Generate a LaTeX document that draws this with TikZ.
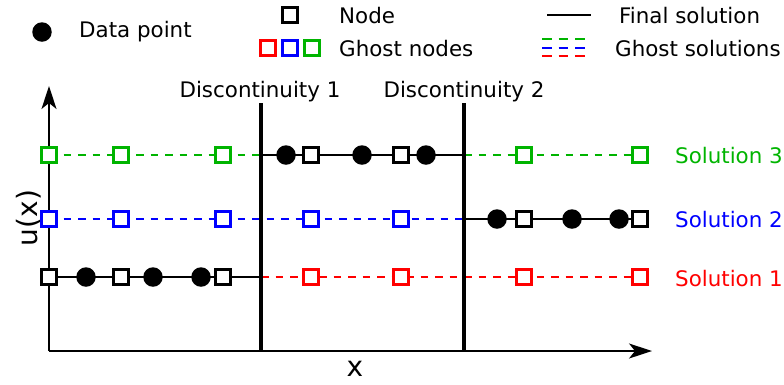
\documentclass[tikz,border=0pt]{standalone}
\usepackage{fontspec}
\setmainfont{DejaVu Sans}
\usetikzlibrary{arrows.meta}
\definecolor{solgreen}{RGB}{0,180,0}

\begin{document}
\begin{tikzpicture}[x=1pt,y=-1pt,font=\fontsize{21.4}{26}\selectfont,
  sqnode/.style={draw=#1,fill=white,line width=2.4pt,minimum size=15pt,inner sep=0pt},
  sqnode/.default=black,
  datapt/.style={circle,fill=black,minimum size=19.5pt,inner sep=0pt},
  lbl/.style={inner sep=0pt},
  axlbl/.style={inner sep=0pt,font=\fontsize{28}{32}\selectfont},
  ghost/.style={line width=2.5pt,dash pattern=on 7.5pt off 7pt},
  final/.style={line width=2.5pt},
  disc/.style={line width=4.8pt},
  axis/.style={line width=1.5pt,-{Stealth[length=23pt,width=15pt,inset=6pt]}}]
\useasboundingbox (0,0) rectangle (784,384);

% legend
\node[datapt] (legdata) at (42,32) {};
\node[lbl,anchor=base west] (legdatatxt) at (79,37) {Data point};
\node[sqnode] (legnode) at (290,15) {};
\node[lbl,anchor=base west] (legnodetxt) at (339,23) {Node};
\node[sqnode=red] (legr) at (268,48) {};
\node[sqnode=blue] (legb) at (290,48) {};
\node[sqnode=solgreen] (legg) at (312,48) {};
\node[lbl,anchor=base west] (legghosttxt) at (339,56) {Ghost nodes};
\coordinate (legfa) at (547,15);
\coordinate (legfb) at (591,15);
\draw[final,line width=2.8pt] (legfa) -- (legfb);
\node[lbl,anchor=base west] (legfinaltxt) at (619,23) {Final solution};
\foreach \c/\y in {solgreen/39,blue/48,red/56}
  \draw[\c,line width=2.8pt,dash pattern=on 9.5pt off 7pt] (542,\y) -- (585,\y);
\node[lbl,anchor=base west] (legsoltxt) at (615,56) {Ghost solutions};

% axes
\coordinate (O) at (49,351);
\coordinate (ytop) at (49,86);
\coordinate (xend) at (652,351);
\draw[axis] (O) -- (ytop);
\draw[axis] (O) -- (xend);
\node[axlbl,rotate=90,anchor=base] (ulabel) at (37,218) {u(x)};
\node[axlbl,anchor=base] (xlabel) at (355,376) {x};

% discontinuities
\coordinate (d1top) at (261,103);
\coordinate (d1bot) at (261,351);
\coordinate (d2top) at (464,103);
\coordinate (d2bot) at (464,351);
\node[lbl,anchor=base] (d1txt) at (260,97) {Discontinuity 1};
\node[lbl,anchor=base] (d2txt) at (464,97) {Discontinuity 2};

% node positions
\foreach \x [count=\i] in {49,121,223,311,401,524,640} {
  \coordinate (g\i) at (\x,155);
  \coordinate (b\i) at (\x,219);
  \coordinate (r\i) at (\x,277);
}

% solutions
\draw[ghost,solgreen] (g1) -- (g2) -- (g3) -- (g3 -| d1top);
\draw[final] (g3 -| d1top) -- (g4) -- (g5) -- (g5 -| d2top);
\draw[ghost,solgreen] (g5 -| d2top) -- (g6) -- (g7);
\draw[ghost,blue] (b1) -- (b2) -- (b3) -- (b4) -- (b5) -- (b5 -| d2top);
\draw[final] (b5 -| d2top) -- (b6) -- (b7);
\draw[final] (r1) -- (r2) -- (r3) -- (r3 -| d1top);
\draw[ghost,red] (r3 -| d1top) -- (r4) -- (r5) -- (r6) -- (r7);

\draw[disc] (d1top) -- (d1bot);
\draw[disc] (d2top) -- (d2bot);

% nodes
\foreach \i in {1,2,3,6,7} \node[sqnode=solgreen] (gn\i) at (g\i) {};
\foreach \i in {4,5} \node[sqnode] (gn\i) at (g\i) {};
\foreach \i in {1,...,5} \node[sqnode=blue] (bn\i) at (b\i) {};
\foreach \i in {6,7} \node[sqnode] (bn\i) at (b\i) {};
\foreach \i in {1,2,3} \node[sqnode] (rn\i) at (r\i) {};
\foreach \i in {4,...,7} \node[sqnode=red] (rn\i) at (r\i) {};

% data points
\foreach \x [count=\i] in {286,362,426} \node[datapt] (gd\i) at (\x,155) {};
\foreach \x [count=\i] in {497,572,619} \node[datapt] (bd\i) at (\x,219) {};
\foreach \x [count=\i] in {86,153,201} \node[datapt] (rd\i) at (\x,277) {};

\node[lbl,anchor=base west,text=solgreen] (sol3) at (675,163) {Solution 3};
\node[lbl,anchor=base west,text=blue] (sol2) at (675,227) {Solution 2};
\node[lbl,anchor=base west,text=red] (sol1) at (675,286) {Solution 1};
\end{tikzpicture}
\end{document}
